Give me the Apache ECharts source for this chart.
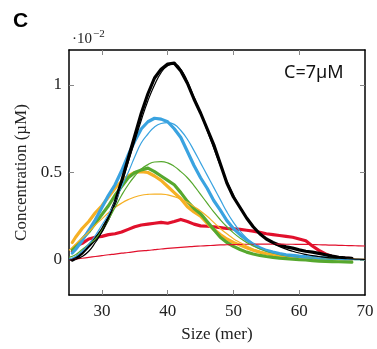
<!DOCTYPE html>
<html>
<head>
<meta charset="utf-8">
<script src="https://cdn.jsdelivr.net/npm/echarts@6/dist/echarts.min.js"></script>
<style>html,body{margin:0;padding:0;background:#fff}#c{width:377px;height:349px}</style>
</head>
<body>
<div id="c"></div>
<script>
// Values in units of 10^-2 µM
const dataX = [25.5,26,27,28,29,30,31,32,33,34,35,36,37,38,39,40,41,42,43,44,45,46,47,48,49,50,51,52,53,54,55,56,57,58,59,60,61,62,63,64,65,66,67,68];
const blackData = [0,0.01,0.04,0.08,0.12,0.17,0.24,0.33,0.45,0.58,0.71,0.84,0.95,1.04,1.09,1.12,1.125,1.08,1.01,0.92,0.84,0.75,0.66,0.55,0.44,0.36,0.30,0.24,0.19,0.15,0.12,0.10,0.085,0.075,0.068,0.058,0.05,0.045,0.038,0.03,0.022,0.015,0.012,0.01];
const blueData = [0.04,0.06,0.11,0.17,0.23,0.3,0.37,0.43,0.51,0.6,0.68,0.75,0.79,0.81,0.805,0.79,0.75,0.7,0.62,0.54,0.47,0.41,0.34,0.285,0.225,0.18,0.145,0.115,0.09,0.07,0.055,0.045,0.037,0.03,0.026,0.022,0.019,0.016,0.014,0.012,0.01,0.009,0.008,0.007];
const greenData = [0.06,0.08,0.12,0.16,0.21,0.26,0.31,0.37,0.42,0.47,0.5,0.515,0.525,0.505,0.48,0.455,0.43,0.385,0.335,0.295,0.265,0.22,0.175,0.13,0.1,0.078,0.06,0.045,0.034,0.026,0.02,0.015,0.011,0.008,0.005,0.002,0,-0.004,-0.006,-0.008,-0.009,-0.01,-0.011,-0.012];
const orangeData = [0.1,0.13,0.18,0.22,0.27,0.31,0.36,0.41,0.45,0.48,0.5,0.505,0.5,0.48,0.455,0.42,0.385,0.35,0.305,0.275,0.25,0.21,0.175,0.145,0.12,0.1,0.085,0.07,0.056,0.045,0.036,0.029,0.024,0.02,0.017,0.015,0.013,0.011,0.009,0.008,0.007,0.006,0.005,0.005];
const redData = [0.05,0.08,0.095,0.12,0.13,0.135,0.145,0.15,0.16,0.175,0.19,0.2,0.205,0.21,0.215,0.21,0.22,0.232,0.22,0.205,0.195,0.193,0.19,0.185,0.18,0.178,0.175,0.17,0.165,0.158,0.15,0.145,0.14,0.135,0.13,0.12,0.11,0.08,0.055,0.035,0.02,0.012,0.01,0.008];

const fitX = [25,26,27,28,29,30,31,32,33,34,35,36,37,38,39,40,41,42,43,44,45,46,47,48,49,50,51,52,53,54,55,56,57,58,59,60,61,62,63,64,65,66,67,68,69,70];
const blackFit = [0,0.005,0.02,0.05,0.1,0.16,0.24,0.33,0.44,0.56,0.68,0.8,0.91,1.0,1.07,1.11,1.12,1.09,1.02,0.93,0.84,0.74,0.64,0.54,0.45,0.37,0.3,0.24,0.19,0.15,0.12,0.095,0.077,0.062,0.05,0.04,0.032,0.025,0.02,0.015,0.012,0.01,0.008,0.006,0.005,0.004];
const blueFit = [0.005,0.02,0.05,0.09,0.14,0.2,0.26,0.33,0.42,0.5,0.59,0.67,0.72,0.76,0.78,0.785,0.775,0.74,0.69,0.625,0.555,0.485,0.415,0.345,0.275,0.215,0.165,0.125,0.095,0.072,0.055,0.042,0.032,0.025,0.019,0.015,0.012,0.01,0.008,0.006,0.005,0.004,0.003,0.003,0.002,0.002];
const greenFit = [0.015,0.03,0.06,0.09,0.12,0.17,0.23,0.3,0.37,0.43,0.48,0.52,0.545,0.56,0.562,0.555,0.535,0.505,0.47,0.425,0.375,0.325,0.275,0.23,0.19,0.155,0.125,0.1,0.08,0.063,0.05,0.04,0.031,0.024,0.019,0.015,0.012,0.009,0.007,0.006,0.005,0.004,0.003,0.003,0.002,0.002];
const orangeFit = [0.055,0.09,0.125,0.16,0.2,0.235,0.27,0.3,0.325,0.345,0.36,0.37,0.375,0.377,0.377,0.372,0.362,0.348,0.33,0.305,0.28,0.25,0.215,0.18,0.15,0.122,0.1,0.08,0.063,0.05,0.04,0.032,0.026,0.021,0.017,0.014,0.012,0.01,0.009,0.008,0.007,0.006,0.005,0.005,0.004,0.004];
const redFit = [0,0.005,0.01,0.015,0.02,0.025,0.03,0.034,0.039,0.043,0.048,0.052,0.055,0.059,0.063,0.066,0.069,0.072,0.075,0.078,0.08,0.082,0.084,0.086,0.087,0.088,0.089,0.09,0.09,0.091,0.091,0.091,0.091,0.09,0.09,0.089,0.089,0.088,0.087,0.086,0.085,0.084,0.083,0.082,0.081,0.08];

const xTicks = [30,40,50,60,70];
const yTicks = [0,0.5,1];

const COLORS = {black:'#000000', blue:'#3aa3e0', green:'#56a82e', orange:'#f6b024', red:'#e1102c'};

function pairs(xs, ys){ return xs.map((x,i)=>[x, ys[i]]); }
function dataSeries(name, ys, color){
  return {name, type:'line', data:pairs(dataX, ys), showSymbol:false, symbol:'none', smooth:false,
    lineStyle:{color, width:3.2, cap:'round', join:'round'}, z:2, silent:true};
}
function fitSeries(name, ys, color){
  return {name, type:'line', data:pairs(fitX, ys), showSymbol:false, symbol:'none', smooth:true,
    lineStyle:{color, width:1.2}, z:3, silent:true};
}

const serif = 'Liberation Serif';
const chart = echarts.init(document.getElementById('c'), null, {renderer:'canvas'});
const tickStyle = {show:true, inside:true, length:5, lineStyle:{color:'#888', width:1}};
chart.setOption({
  animation:false,
  grid:{left:69, right:12, top:50, bottom:54, containLabel:false},
  xAxis:[
    {type:'value', position:'bottom', min:25, max:70,
     axisLine:{show:true, onZero:false, lineStyle:{color:'#000', width:1.5}},
     axisTick:Object.assign({customValues:xTicks.slice(0,4)}, tickStyle),
     axisLabel:{customValues:xTicks, color:'#222', fontFamily:serif, fontSize:17, margin:8},
     splitLine:{show:false},
     name:'Size (mer)', nameLocation:'middle', nameGap:31,
     nameTextStyle:{color:'#222', fontFamily:serif, fontSize:17}},
    {type:'value', position:'top', min:25, max:70,
     axisLine:{show:true, onZero:false, lineStyle:{color:'#000', width:1.5}},
     axisTick:Object.assign({customValues:xTicks.slice(0,4)}, tickStyle),
     axisLabel:{show:false}, splitLine:{show:false}}
  ],
  yAxis:[
    {type:'value', position:'left', min:-0.2, max:1.2,
     axisLine:{show:true, onZero:false, lineStyle:{color:'#000', width:1.5}},
     axisTick:Object.assign({customValues:yTicks}, tickStyle),
     axisLabel:{customValues:yTicks, color:'#222', fontFamily:serif, fontSize:17, margin:7,
       formatter:v=>String(v)},
     splitLine:{show:false},
     name:'Concentration (µM)', nameLocation:'middle', nameGap:30, nameRotate:90,
     nameTextStyle:{color:'#222', fontFamily:serif, fontSize:17}},
    {type:'value', position:'right', min:-0.2, max:1.2,
     axisLine:{show:true, onZero:false, lineStyle:{color:'#000', width:1.5}},
     axisTick:Object.assign({customValues:yTicks}, tickStyle),
     axisLabel:{show:false}, splitLine:{show:false}}
  ],
  graphic:[
    {type:'text', left:13, top:11, style:{text:'C', font:'bold 21px "Liberation Sans", Arial, sans-serif', fill:'#000'}},
    {type:'text', left:72, top:29, style:{
      text:'{a|·10}{b|−2}',
      rich:{a:{fontFamily:serif, fontSize:15, fill:'#222', verticalAlign:'bottom'},
            b:{fontFamily:serif, fontSize:11, fill:'#222', verticalAlign:'top', padding:[0,0,7,1]}}}},
    {type:'text', left:284, top:64, style:{text:'C=7µM', font:'18px "Noto Sans", sans-serif', fill:'#111'}}
  ],
  series:[
    dataSeries('red data', redData, COLORS.red),
    dataSeries('orange data', orangeData, COLORS.orange),
    dataSeries('green data', greenData, COLORS.green),
    dataSeries('blue data', blueData, COLORS.blue),
    dataSeries('black data', blackData, COLORS.black),
    fitSeries('red fit', redFit, COLORS.red),
    fitSeries('orange fit', orangeFit, COLORS.orange),
    fitSeries('green fit', greenFit, COLORS.green),
    fitSeries('blue fit', blueFit, COLORS.blue),
    fitSeries('black fit', blackFit, COLORS.black)
  ]
});
</script>
</body>
</html>
